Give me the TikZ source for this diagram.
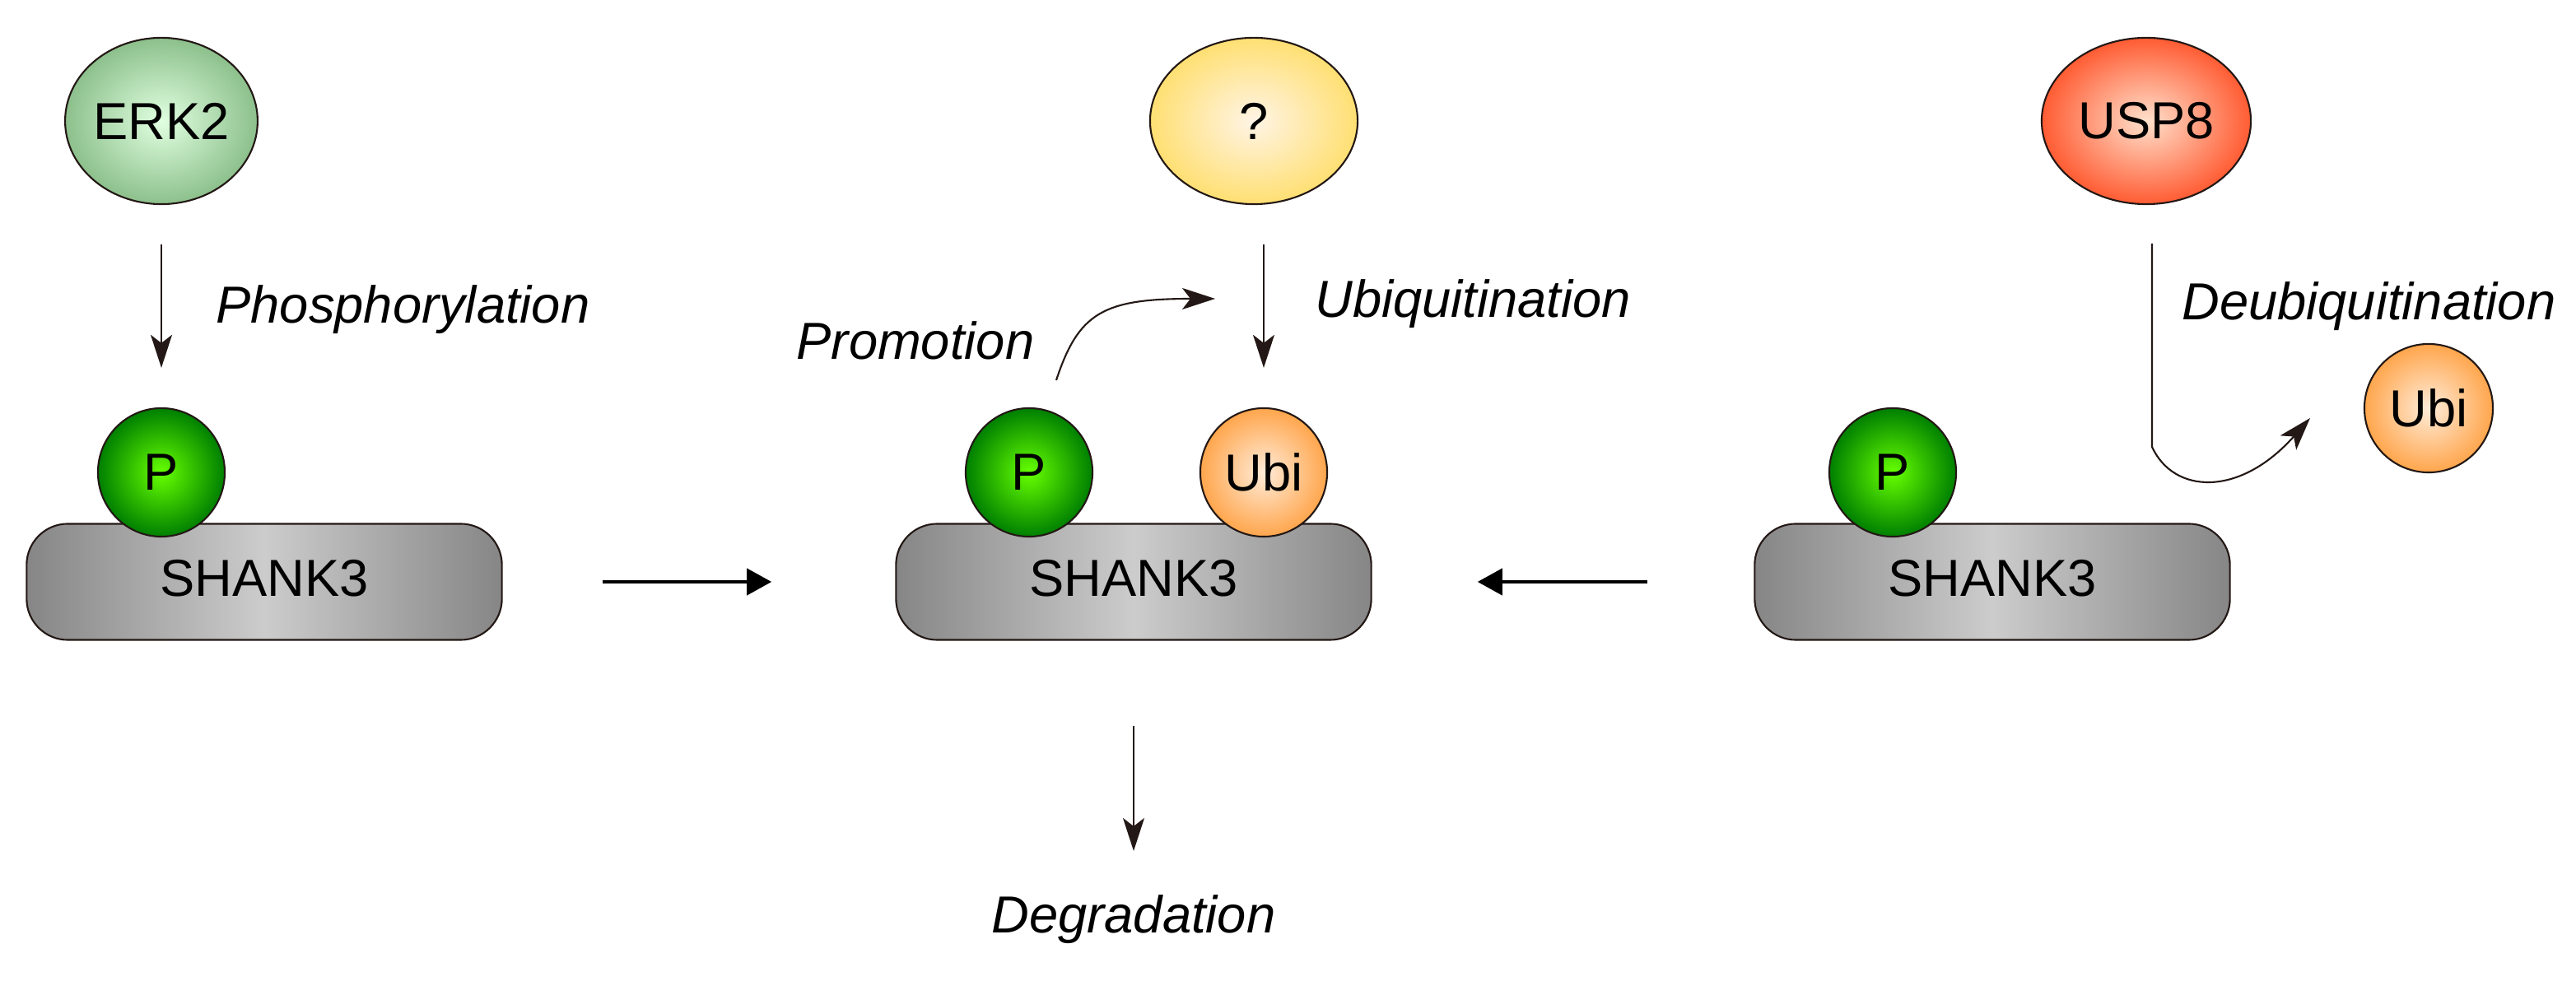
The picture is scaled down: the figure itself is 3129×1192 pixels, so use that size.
\documentclass[tikz,border=0pt]{standalone}
\usepackage{fontspec}
\setmainfont{Liberation Sans}
\usetikzlibrary{shapes.geometric, arrows.meta, positioning}
\definecolor{inkline}{HTML}{231815}
\tikzset{
	every node/.style={font=\fontsize{18}{20}\selectfont},
	ball/.style={ellipse, draw=inkline, line width=0.6pt, inner sep=0pt},
	shank/.style={rectangle, draw=inkline, line width=0.6pt, rounded corners=0.5cm, minimum width=5.77cm, minimum height=1.41cm, left color=gray!95, right color=gray!95, middle color=gray!40},
	lbl/.style={font=\fontsize{18}{20}\selectfont\itshape},
	line/.style={draw=inkline, line width=0.6pt, -{Stealth[length=4mm, width=2.6mm, inset=1mm]}},
	bold/.style={draw=black, line width=1.2pt, -{Triangle[length=3mm, width=3.2mm]}}
}
\begin{document}
\begin{tikzpicture}[x=0.01cm, y=-0.01cm]
    \useasboundingbox (0,0) rectangle (3129,1192);
    % Kinases and enzymes
    \node[ball, minimum width=2.14cm, minimum height=2.02cm, inner color=green!12, outer color=green!45!black!45!white] (erk) at (196,147) {ERK2};
    \node[ball, minimum width=2.52cm, minimum height=2.02cm, inner color=yellow!15!orange!10, outer color=orange!45!yellow!55] (unk) at (1523,147) {?};
    \node[ball, minimum width=2.54cm, minimum height=2.02cm, inner color=red!20!orange!20, outer color=red!60!orange!80] (usp) at (2607,147) {USP8};
    % SHANK3 bars
    \node[shank] (s1) at (321,707) {};
    \node[shank] (s2) at (1377,707) {};
    \node[shank] (s3) at (2420,707) {};
    \node at (321,703) {SHANK3};
    \node at (1377,703) {SHANK3};
    \node at (2420,703) {SHANK3};
    % Modifications
    \node[ball, minimum width=1.54cm, minimum height=1.56cm, inner color=green!60!yellow, outer color=green!50!black] (p1) at (196,574) {P};
    \node[ball, minimum width=1.54cm, minimum height=1.56cm, inner color=green!60!yellow, outer color=green!50!black] (p2) at (1250,574) {P};
    \node[ball, minimum width=1.54cm, minimum height=1.56cm, inner color=green!60!yellow, outer color=green!50!black] (p3) at (2299,574) {P};
    \node[ball, minimum width=1.54cm, minimum height=1.56cm, inner color=orange!15, outer color=orange!70] (u2) at (1535,574) {Ubi};
    \node[ball, minimum width=1.56cm, minimum height=1.56cm, inner color=orange!15, outer color=orange!70] (u3) at (2950,496) {Ubi};
    % Arrows
    \draw[line, shorten <=0.48cm, shorten >=0.48cm] (erk.south) -- (p1.north);
    \draw[line, shorten <=0.48cm, shorten >=0.48cm] (unk.south -| u2.north) -- (u2.north);
    \coordinate (d1) at (1377,1034);
    \draw[line] (s2.south |- 0,882) -- (d1);
    \coordinate (pr0) at (1283,462);
    \coordinate (pr1) at (1476,363);
    \draw[line] (pr0) .. controls (1310,380) and (1340,363) .. (pr1);
    \coordinate (db0) at (2614,296);
    \coordinate (db1) at (2806,508);
    \draw[line] (db0) -- (2614,543) .. controls (2640,600) and (2720,605) .. (db1);
    \draw[bold, shorten <=1.21cm, shorten >=1.5cm] (s1.east) -- (s2.west);
    \draw[bold, {Triangle[length=3mm, width=3.2mm]}-, shorten <=1.28cm, shorten >=1.29cm] (s2.east) -- (s3.west);
    % Labels
    \node[lbl, anchor=west] at (250,376) {Phosphorylation};
    \node[lbl, anchor=west] at (1585,369) {Ubiquitination};
    \node[lbl] at (1112,414) {Promotion};
    \node[lbl, anchor=west] at (2638,372) {Deubiquitination};
    \node[lbl] at (1377,1117) {Degradation};
\end{tikzpicture}
\end{document}
